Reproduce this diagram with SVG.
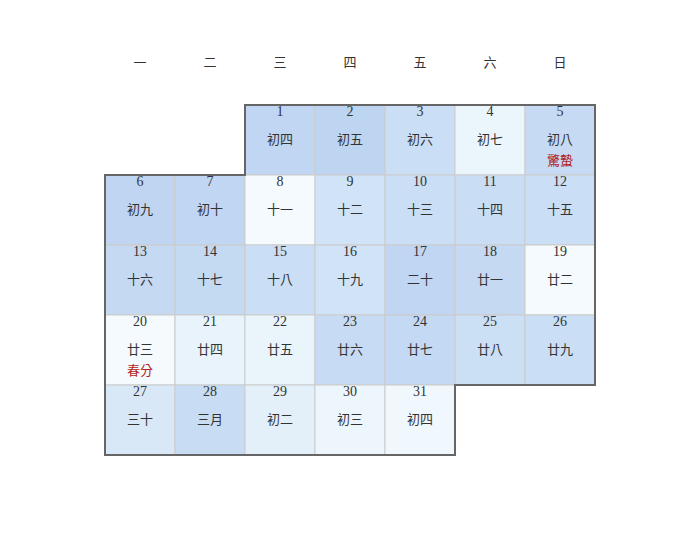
<svg xmlns="http://www.w3.org/2000/svg" width="700" height="560" viewBox="0 0 700 560">
<style>
.c{stroke:#cccccc;stroke-width:1}
.n{font-family:"Liberation Serif","Noto Sans CJK TC",serif;font-size:14px;fill:#333333;text-anchor:middle}
.l{font-family:"Liberation Serif","Noto Sans CJK TC",serif;font-size:13px;fill:#333333;text-anchor:middle}
.t{font-family:"Liberation Serif","Noto Sans CJK TC",serif;font-size:13px;fill:#b22222;text-anchor:middle}
.h{font-family:"Liberation Serif","Noto Sans CJK TC",serif;font-size:13px;fill:#333333;text-anchor:middle}
</style>
<rect width="700" height="560" fill="#ffffff"/>
<g id="header">
<text class="h" x="140" y="67">一</text>
<text class="h" x="210" y="67">二</text>
<text class="h" x="280" y="67">三</text>
<text class="h" x="350" y="67">四</text>
<text class="h" x="420" y="67">五</text>
<text class="h" x="490" y="67">六</text>
<text class="h" x="560" y="67">日</text>
</g>
<g id="d1"><rect class="c" x="245" y="105" width="70" height="70" fill="#c0d6f2"/><text class="n" x="280" y="116">1</text><text class="l" x="280" y="144">初四</text></g>
<g id="d2"><rect class="c" x="315" y="105" width="70" height="70" fill="#bdd5f1"/><text class="n" x="350" y="116">2</text><text class="l" x="350" y="144">初五</text></g>
<g id="d3"><rect class="c" x="385" y="105" width="70" height="70" fill="#cadff5"/><text class="n" x="420" y="116">3</text><text class="l" x="420" y="144">初六</text></g>
<g id="d4"><rect class="c" x="455" y="105" width="70" height="70" fill="#ebf5fc"/><text class="n" x="490" y="116">4</text><text class="l" x="490" y="144">初七</text></g>
<g id="d5"><rect class="c" x="525" y="105" width="70" height="70" fill="#c6dbf3"/><text class="n" x="560" y="116">5</text><text class="l" x="560" y="144">初八</text><text class="t" x="560" y="165">驚蟄</text></g>
<g id="d6"><rect class="c" x="105" y="175" width="70" height="70" fill="#c0d5f1"/><text class="n" x="140" y="186">6</text><text class="l" x="140" y="214">初九</text></g>
<g id="d7"><rect class="c" x="175" y="175" width="70" height="70" fill="#c1d6f2"/><text class="n" x="210" y="186">7</text><text class="l" x="210" y="214">初十</text></g>
<g id="d8"><rect class="c" x="245" y="175" width="70" height="70" fill="#f4fafd"/><text class="n" x="280" y="186">8</text><text class="l" x="280" y="214">十一</text></g>
<g id="d9"><rect class="c" x="315" y="175" width="70" height="70" fill="#d0e3f7"/><text class="n" x="350" y="186">9</text><text class="l" x="350" y="214">十二</text></g>
<g id="d10"><rect class="c" x="385" y="175" width="70" height="70" fill="#cadff5"/><text class="n" x="420" y="186">10</text><text class="l" x="420" y="214">十三</text></g>
<g id="d11"><rect class="c" x="455" y="175" width="70" height="70" fill="#c9ddf4"/><text class="n" x="490" y="186">11</text><text class="l" x="490" y="214">十四</text></g>
<g id="d12"><rect class="c" x="525" y="175" width="70" height="70" fill="#cadef5"/><text class="n" x="560" y="186">12</text><text class="l" x="560" y="214">十五</text></g>
<g id="d13"><rect class="c" x="105" y="245" width="70" height="70" fill="#c5daf2"/><text class="n" x="140" y="256">13</text><text class="l" x="140" y="284">十六</text></g>
<g id="d14"><rect class="c" x="175" y="245" width="70" height="70" fill="#c4d9f2"/><text class="n" x="210" y="256">14</text><text class="l" x="210" y="284">十七</text></g>
<g id="d15"><rect class="c" x="245" y="245" width="70" height="70" fill="#cadef5"/><text class="n" x="280" y="256">15</text><text class="l" x="280" y="284">十八</text></g>
<g id="d16"><rect class="c" x="315" y="245" width="70" height="70" fill="#d0e3f7"/><text class="n" x="350" y="256">16</text><text class="l" x="350" y="284">十九</text></g>
<g id="d17"><rect class="c" x="385" y="245" width="70" height="70" fill="#c0d6f2"/><text class="n" x="420" y="256">17</text><text class="l" x="420" y="284">二十</text></g>
<g id="d18"><rect class="c" x="455" y="245" width="70" height="70" fill="#c5daf2"/><text class="n" x="490" y="256">18</text><text class="l" x="490" y="284">廿一</text></g>
<g id="d19"><rect class="c" x="525" y="245" width="70" height="70" fill="#f4fafd"/><text class="n" x="560" y="256">19</text><text class="l" x="560" y="284">廿二</text></g>
<g id="d20"><rect class="c" x="105" y="315" width="70" height="70" fill="#f4fafd"/><text class="n" x="140" y="326">20</text><text class="l" x="140" y="354">廿三</text><text class="t" x="140" y="375">春分</text></g>
<g id="d21"><rect class="c" x="175" y="315" width="70" height="70" fill="#e8f3fb"/><text class="n" x="210" y="326">21</text><text class="l" x="210" y="354">廿四</text></g>
<g id="d22"><rect class="c" x="245" y="315" width="70" height="70" fill="#e9f4fb"/><text class="n" x="280" y="326">22</text><text class="l" x="280" y="354">廿五</text></g>
<g id="d23"><rect class="c" x="315" y="315" width="70" height="70" fill="#c7dcf4"/><text class="n" x="350" y="326">23</text><text class="l" x="350" y="354">廿六</text></g>
<g id="d24"><rect class="c" x="385" y="315" width="70" height="70" fill="#c4d9f3"/><text class="n" x="420" y="326">24</text><text class="l" x="420" y="354">廿七</text></g>
<g id="d25"><rect class="c" x="455" y="315" width="70" height="70" fill="#cbdff5"/><text class="n" x="490" y="326">25</text><text class="l" x="490" y="354">廿八</text></g>
<g id="d26"><rect class="c" x="525" y="315" width="70" height="70" fill="#cadff5"/><text class="n" x="560" y="326">26</text><text class="l" x="560" y="354">廿九</text></g>
<g id="d27"><rect class="c" x="105" y="385" width="70" height="70" fill="#d9e8f7"/><text class="n" x="140" y="396">27</text><text class="l" x="140" y="424">三十</text></g>
<g id="d28"><rect class="c" x="175" y="385" width="70" height="70" fill="#c8ddf4"/><text class="n" x="210" y="396">28</text><text class="l" x="210" y="424">三月</text></g>
<g id="d29"><rect class="c" x="245" y="385" width="70" height="70" fill="#e3f0fa"/><text class="n" x="280" y="396">29</text><text class="l" x="280" y="424">初二</text></g>
<g id="d30"><rect class="c" x="315" y="385" width="70" height="70" fill="#edf6fc"/><text class="n" x="350" y="396">30</text><text class="l" x="350" y="424">初三</text></g>
<g id="d31"><rect class="c" x="385" y="385" width="70" height="70" fill="#f0f7fd"/><text class="n" x="420" y="396">31</text><text class="l" x="420" y="424">初四</text></g>
<g id="outline"><path d="M245 105H595V385H455V455H105V175H245Z" fill="none" stroke="#666666" stroke-width="2"/></g>
</svg>
